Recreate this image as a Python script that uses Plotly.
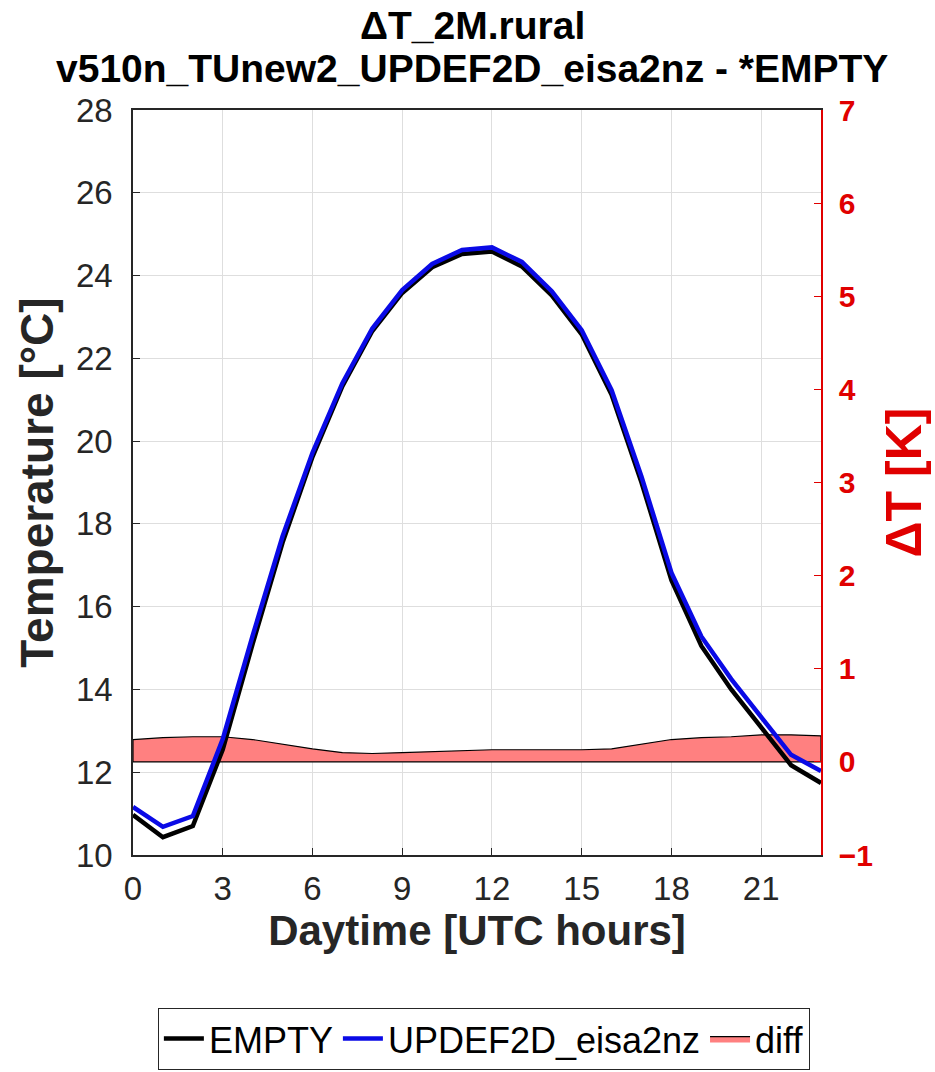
import plotly.graph_objects as go

hours = list(range(24))
t_empty = [10.97, 10.43, 10.70, 12.55, 15.10, 17.55, 19.62, 21.33, 22.66, 23.58,
           24.20, 24.52, 24.58, 24.22, 23.52, 22.58, 21.12, 19.00, 16.64, 15.05,
           14.00, 13.07, 12.17, 11.74]
t_updef = [11.16, 10.68, 10.94, 12.80, 15.30, 17.70, 19.72, 21.40, 22.72, 23.65,
           24.28, 24.62, 24.68, 24.33, 23.62, 22.68, 21.23, 19.14, 16.82, 15.28,
           14.25, 13.33, 12.42, 12.03]
diff = [0.24, 0.26, 0.27, 0.27, 0.24, 0.19, 0.14, 0.10, 0.09, 0.10, 0.11, 0.12,
        0.13, 0.13, 0.13, 0.13, 0.14, 0.19, 0.24, 0.26, 0.27, 0.29, 0.29, 0.28]
x_ticks = [0, 3, 6, 9, 12, 15, 18, 21]
y_ticks = [10, 12, 14, 16, 18, 20, 22, 24, 26, 28]
dt_ticks = [-1, 0, 1, 2, 3, 4, 5, 6, 7]

title_line1 = "ΔT_2M.rural"
title_line2 = "v510n_TUnew2_UPDEF2D_eisa2nz - *EMPTY"

FONT = "Liberation Sans, Arial, sans-serif"
RED = "#e00000"
DARK = "#262626"

fig = go.Figure()

# diff polygon between 0 and diff values (on the red ΔT axis = base 'y')
poly_x = hours + hours[::-1] + [hours[0]]
poly_y = diff + [0.0] * len(hours) + [diff[0]]
fig.add_trace(go.Scatter(
    x=poly_x, y=poly_y, yaxis="y", mode="lines", fill="toself",
    fillcolor="rgb(255,128,128)", line=dict(color="black", width=1.2),
    name="diff", legendrank=3, hoverinfo="skip"))

# temperature lines on the overlaying left axis 'y2' (drawn above the fill)
fig.add_trace(go.Scatter(
    x=hours, y=t_empty, yaxis="y2", mode="lines",
    line=dict(color="black", width=4.5), name="EMPTY", legendrank=1))
fig.add_trace(go.Scatter(
    x=hours, y=t_updef, yaxis="y2", mode="lines",
    line=dict(color="#0a0ae6", width=4.5), name="UPDEF2D_eisa2nz", legendrank=2))

fig.update_layout(
    width=935, height=1072,
    margin=dict(l=133, r=114, t=110, b=217, autoexpand=False),
    paper_bgcolor="white", plot_bgcolor="white",
    font=dict(family=FONT, size=33, color=DARK),
    showlegend=True,
    xaxis=dict(
        range=[0, 23], tickvals=x_ticks, ticks="inside", ticklen=7,
        tickcolor=DARK, showline=True, linecolor=DARK, linewidth=1.5,
        mirror=True, showgrid=True, gridcolor="#dedede", gridwidth=1,
        zeroline=False, tickfont=dict(size=33, color=DARK),
        ticklabelstandoff=4, automargin=False,
        title=dict(text="<b>Daytime [UTC hours]</b>", standoff=8,
                   font=dict(size=42, color=DARK))),
    yaxis=dict(
        range=[-1, 7], tickvals=dt_ticks, side="right",
        ticks="inside", ticklen=7, tickcolor=RED, showline=True,
        linecolor=RED, linewidth=1.5, showgrid=False, zeroline=False,
        tickfont=dict(size=30, color=RED, weight="bold"),
        ticklabelstandoff=10, automargin=False,
        title=dict(text="<b>ΔT [K]</b>", standoff=14,
                   font=dict(size=50, color=RED))),
    yaxis2=dict(
        range=[10, 28], tickvals=y_ticks, overlaying="y", side="left",
        ticks="inside", ticklen=7, tickcolor=DARK, showline=True,
        linecolor=DARK, linewidth=1.5, showgrid=True, gridcolor="#dedede",
        gridwidth=1, zeroline=False, tickfont=dict(size=33, color=DARK),
        ticklabelstandoff=12, automargin=False,
        title=dict(text="<b>Temperature [°C]</b>", standoff=8,
                   font=dict(size=46, color=DARK))),
    legend=dict(
        orientation="h", x=0.51, xanchor="center", y=-0.205, yanchor="top",
        bordercolor=DARK, borderwidth=1, bgcolor="white",
        font=dict(size=36, color="black"), itemwidth=40,
        traceorder="normal"),
    annotations=[
        dict(text="<b>" + title_line1 + "</b>", xref="paper", yref="paper",
             x=0.493, y=1.114, xanchor="center", yanchor="middle",
             showarrow=False, font=dict(size=39, color="black", family=FONT)),
        dict(text="<b>" + title_line2 + "</b>", xref="paper", yref="paper",
             x=0.493, y=1.056, xanchor="center", yanchor="middle",
             showarrow=False, font=dict(size=39, color="black", family=FONT)),
    ],
)

fig.write_html("out.html")
